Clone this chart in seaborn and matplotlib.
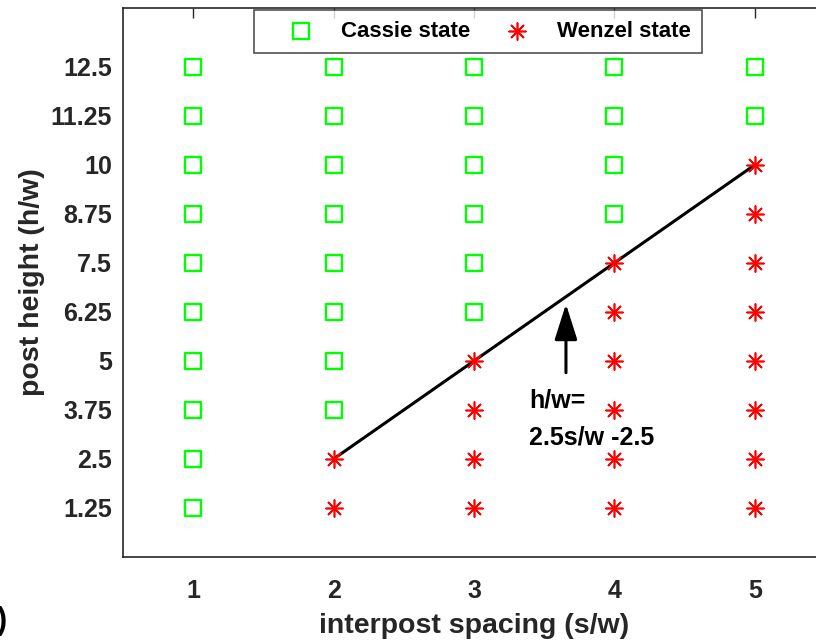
import matplotlib
matplotlib.use("Agg")
import matplotlib.pyplot as plt
import seaborn as sns
import numpy as np
import pandas as pd

sns.set_style("white")
plt.rcParams['font.family'] = ['Liberation Sans', 'DejaVu Sans']
plt.rcParams['font.weight'] = 'bold'

# data
cassie_x = [1]*10 + [2]*8 + [3]*6 + [4]*4 + [5]*2
cassie_y = [1.25, 2.5, 3.75, 5, 6.25, 7.5, 8.75, 10, 11.25, 12.5] \
    + [3.75, 5, 6.25, 7.5, 8.75, 10, 11.25, 12.5] \
    + [6.25, 7.5, 8.75, 10, 11.25, 12.5] \
    + [8.75, 10, 11.25, 12.5] \
    + [11.25, 12.5]
wenzel_x = [2]*2 + [3]*4 + [4]*6 + [5]*8
wenzel_y = [1.25, 2.5] + [1.25, 2.5, 3.75, 5] + [1.25, 2.5, 3.75, 5, 6.25, 7.5] \
    + [1.25, 2.5, 3.75, 5, 6.25, 7.5, 8.75, 10]
line_x = [2, 5]
line_y = [2.5, 10]
yticks = [1.25, 2.5, 3.75, 5, 6.25, 7.5, 8.75, 10, 11.25, 12.5]
yticklabels = ['1.25', '2.5', '3.75', '5', '6.25', '7.5', '8.75', '10', '11.25', '12.5']
xticks = [1, 2, 3, 4, 5]

dc = pd.DataFrame({'s': cassie_x, 'h': cassie_y})
dw = pd.DataFrame({'s': wenzel_x, 'h': wenzel_y})

fig = plt.figure(figsize=(8.16, 6.44), dpi=100)
ax = fig.add_axes([123/816, 1-557/644, (825-123)/816, (557-8)/644])

axc = '#262626'
sns.scatterplot(data=dc, x='s', y='h', ax=ax, marker='s', s=135,
                facecolor='none', edgecolor='#00ff00', linewidth=1.7,
                label='Cassie state', zorder=3)
sns.scatterplot(data=dw, x='s', y='h', ax=ax, marker=(8, 2, 0), s=150,
                color='#ff0000', edgecolor='#ff0000', linewidth=1.2,
                label='Wenzel state', zorder=3)
sns.lineplot(x=line_x, y=line_y, ax=ax, color='black', linewidth=2.2, zorder=2)

ax.annotate('', xy=(3.655, 6.45), xytext=(3.655, 4.7),
            arrowprops=dict(arrowstyle='-|>,head_length=2.2,head_width=0.7',
                            color='black', lw=2.2, shrinkA=0, shrinkB=0))
ax.text(3.39, 4.0, 'h/w=', fontsize=18, fontweight='bold', color='black',
        ha='left', va='center')
ax.text(3.39, 3.05, '2.5s/w -2.5', fontsize=18, fontweight='bold', color='black',
        ha='left', va='center')

ax.set_xlim(0.5, 5.5)
ax.set_ylim(0, 14)
ax.set_xticks(xticks)
ax.set_xticklabels([str(v) for v in xticks])
ax.set_yticks(yticks)
ax.set_yticklabels(yticklabels)
ax.tick_params(direction='in', length=7, width=1, colors=axc, labelsize=18,
               top=True, right=False)
ax.tick_params(axis='x', pad=16)
ax.tick_params(axis='y', pad=8)
for lab in ax.get_xticklabels() + ax.get_yticklabels():
    lab.set_fontweight('bold')
    lab.set_color(axc)
for sp in ax.spines.values():
    sp.set_color(axc)
    sp.set_linewidth(1.2)
ax.set_xlabel('interpost spacing (s/w)', fontsize=20.5, fontweight='bold', color=axc, labelpad=7)
ax.set_ylabel('post height (h/w)', fontsize=20.5, fontweight='bold', color=axc, labelpad=4)

leg = ax.legend(ncol=2, loc='upper left', bbox_to_anchor=((254-123)/702, 1-2/549),
                frameon=True, fancybox=False, edgecolor=axc, fontsize=16,
                borderpad=0.5, columnspacing=0.5, handletextpad=0.2,
                handlelength=3.2, borderaxespad=0)
leg.get_frame().set_linewidth(1.2)
for t in leg.get_texts():
    t.set_fontweight('bold')
    t.set_color('black')

fig.text(-0.004, 0.035, ')', fontsize=22, fontweight='bold', color='black', ha='left', va='center')

fig.savefig('out.png', dpi=100)
